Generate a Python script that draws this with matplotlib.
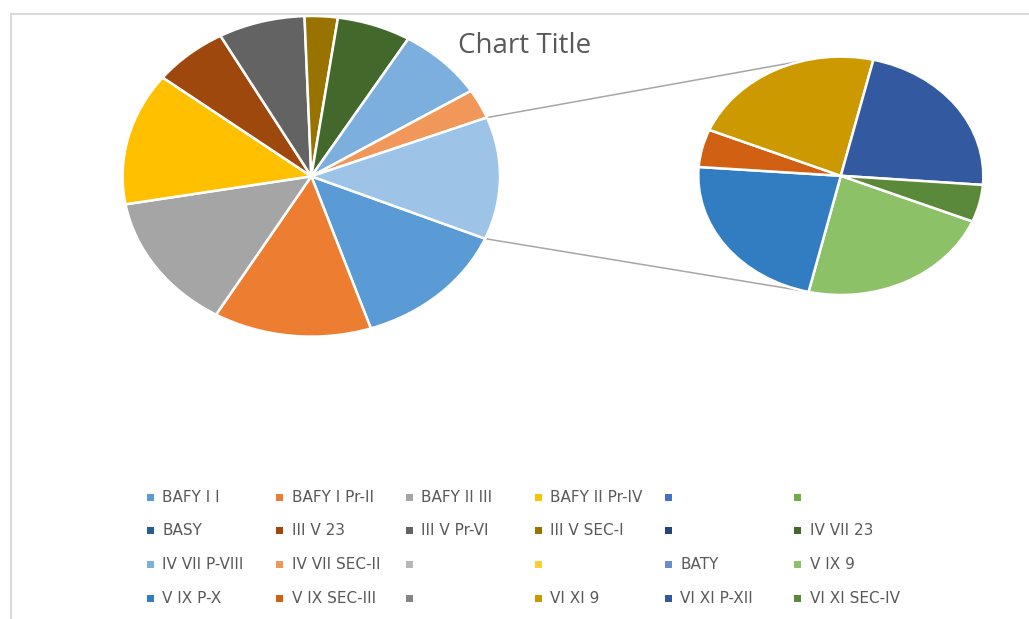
import matplotlib
matplotlib.use("Agg")
import matplotlib.pyplot as plt
from matplotlib.patches import Rectangle, ConnectionPatch
import numpy as np

W, H = 1029, 619

# ---- data ----
labels = ["BAFY I I", "BAFY I Pr-II", "BAFY II III", "BAFY II Pr-IV", "", "",
          "BASY", "III V 23", "III V Pr-VI", "III V SEC-I", "", "IV VII 23",
          "IV VII P-VIII", "IV VII SEC-II", "", "", "BATY", "V IX 9",
          "V IX P-X", "V IX SEC-III", "", "VI XI 9", "VI XI P-XII", "VI XI SEC-IV"]
values = [13.53, 13.53, 13.78, 13.36, 0, 0,
          0, 6.44, 7.42, 2.83, 0, 6.33,
          7.47, 2.97, 0, 0, 0, 2.76,
          2.78, 0.63, 0, 2.76, 2.78, 0.62]
colors = ["#5B9BD5", "#ED7D31", "#A5A5A5", "#FFC000", "#4472C4", "#70AD47",
          "#255E91", "#9E480E", "#636363", "#997300", "#264478", "#43682B",
          "#7CAFDD", "#F1975A", "#B7B7B7", "#FFCD33", "#698ED0", "#8CC168",
          "#327DC2", "#D26012", "#848484", "#CC9A00", "#335AA1", "#5A8A39"]
split = 17          # points from this index go to the secondary pie
other_color = "#9DC3E6"
title = "Chart Title"

# ---- split into the two pies ----
main_vals = [v for v in values[:split] if v > 0]
main_cols = [c for v, c in zip(values[:split], colors[:split]) if v > 0]
sec_vals = [v for v in values[split:] if v > 0]
sec_cols = [c for v, c in zip(values[split:], colors[split:]) if v > 0]
other_val = sum(sec_vals)
main_vals.append(other_val)
main_cols.append(other_color)

fig = plt.figure(figsize=(W / 100, H / 100), dpi=100)
fig.patch.set_facecolor("white")

def px_axes(cx, cy, rx, ry):
    return fig.add_axes([(cx - rx) / W, 1 - (cy + ry) / H, 2 * rx / W, 2 * ry / H])

# chart border (only top and left edges are inside the picture)
border = Rectangle((11 / W, -0.2), 1.2, 1.2 - 14 / H, transform=fig.transFigure,
                   fill=False, edgecolor="#D9D9D9", linewidth=1.5)
fig.add_artist(border)

main_start = -22.9
ax1 = px_axes(311.3, 176.3, 188.7, 160.3)
ax1.pie(main_vals, colors=main_cols, startangle=main_start, counterclock=False,
        wedgeprops=dict(edgecolor="white", linewidth=1.8))
ax1.set_aspect("auto")
ax1.set_xlim(-1, 1)
ax1.set_ylim(-1, 1)
ax1.axis("off")

ax2 = px_axes(840.8, 175.8, 142.5, 119.2)
ax2.pie(sec_vals, colors=sec_cols, startangle=-22.5, counterclock=False,
        wedgeprops=dict(edgecolor="white", linewidth=1.8))
ax2.set_aspect("auto")
ax2.set_xlim(-1, 1)
ax2.set_ylim(-1, 1)
ax2.axis("off")

# connector lines from the "other" slice edges to the secondary pie
total = sum(main_vals)
other_end = np.deg2rad(main_start)
other_beg = np.deg2rad(main_start + 360 * other_val / total)
for a1, a2 in [(other_beg, np.deg2rad(104)), (other_end, np.deg2rad(-104))]:
    con = ConnectionPatch(xyA=(np.cos(a1), np.sin(a1)), coordsA=ax1.transData,
                          xyB=(np.cos(a2), np.sin(a2)), coordsB=ax2.transData,
                          color="#A6A6A6", linewidth=1.1, zorder=0)
    fig.add_artist(con)

fig.text(525 / W, 1 - 46 / H, title, ha="center", va="center",
         fontsize=20, color="#595959", family="Open Sans")

# legend (6 columns, row-wise)
x0, dx, y0, dy = 150, 129.5, 497, 33.7
for i, (lab, col) in enumerate(zip(labels, colors)):
    r, c = divmod(i, 6)
    x = x0 + c * dx
    y = y0 + r * dy
    fig.add_artist(Rectangle(((x - 3.5) / W, 1 - (y + 3.5) / H), 7 / W, 7 / H,
                             transform=fig.transFigure, facecolor=col,
                             edgecolor="none"))
    if lab:
        fig.text((x + 12) / W, 1 - y / H, lab, ha="left", va="center",
                 fontsize=11, color="#595959", family="DejaVu Sans")

fig.savefig("out.png", dpi=100, facecolor="white")
